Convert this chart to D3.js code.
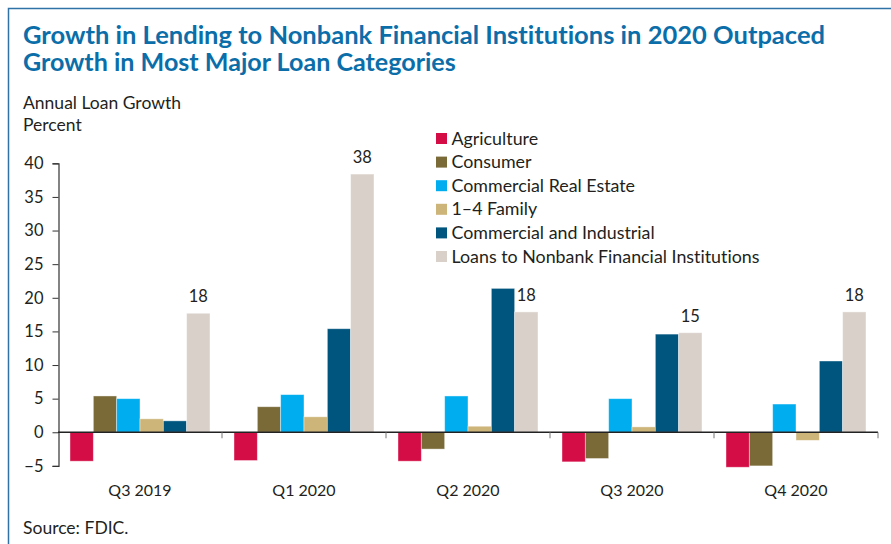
<!DOCTYPE html>
<html>
<head>
<meta charset="utf-8">
<script src="https://cdn.jsdelivr.net/npm/d3@7"></script>
<style>
  html, body { margin: 0; padding: 0; background: #fff; }
  svg { display: block; }
  text { font-family: Lato, "Noto Sans", sans-serif; fill: #231f20; font-variant-ligatures: none; font-feature-settings: "liga" 0, "clig" 0; }
</style>
</head>
<body>
<svg id="chart" width="891" height="544"></svg>
<script>
const quarters = ["Q3 2019", "Q1 2020", "Q2 2020", "Q3 2020", "Q4 2020"];
const seriesNames = ["Agriculture", "Consumer", "Commercial Real Estate", "1\u20134 Family", "Commercial and Industrial", "Loans to Nonbank Financial Institutions"];
const agriculture = [-4.3, -4.2, -4.3, -4.4, -5.2];
const consumer = [5.4, 3.8, -2.5, -3.9, -5.0];
const commercialRealEstate = [5.0, 5.6, 5.4, 5.0, 4.2];
const family14 = [2.0, 2.3, 0.9, 0.8, -1.2];
const commercialIndustrial = [1.7, 15.4, 21.4, 14.6, 10.6];
const nonbank = [17.7, 38.4, 17.9, 14.8, 17.9];
const nonbankLabels = ["18", "38", "18", "15", "18"];
const yTicks = [-5, 0, 5, 10, 15, 20, 25, 30, 35, 40];
const colors = ["#d40d46", "#7a6a38", "#00aeef", "#cdb478", "#00557f", "#d9d0ca"];
const seriesValues = [agriculture, consumer, commercialRealEstate, family14, commercialIndustrial, nonbank];

const svg = d3.select("#chart");

// frame
svg.append("rect").attr("x", 8.5).attr("y", 8.5).attr("width", 1000).attr("height", 1000)
  .attr("fill", "none").attr("stroke", "#2f72a6").attr("stroke-width", 1.5);

function fit(sel, target) {
  const w = sel.node().getComputedTextLength();
  const fs = parseFloat(sel.attr("font-size"));
  sel.attr("font-size", (fs * target / w).toFixed(2));
}

// title
const t1 = svg.append("text").attr("x", 23).attr("y", 43.5).attr("font-size", 24).attr("font-weight", 700)
  .style("fill", "#0b6ea9").text("Growth in Lending to Nonbank Financial Institutions in 2020 Outpaced");
fit(t1, 802);
const t2 = svg.append("text").attr("x", 23).attr("y", 71).attr("font-size", 24).attr("font-weight", 700)
  .style("fill", "#0b6ea9").text("Growth in Most Major Loan Categories");
fit(t2, 433);

const a1 = svg.append("text").attr("x", 23).attr("y", 108.5).attr("font-size", 16).text("Annual Loan Growth");
fit(a1, 158);
const a2 = svg.append("text").attr("x", 23).attr("y", 130.5).attr("font-size", 16).text("Percent");
a2.attr("font-size", a1.attr("font-size"));

// scales
const x = d3.scaleBand().domain(quarters).range([58, 878]).padding(0);
const xi = d3.scaleBand().domain(seriesNames).range([12, x.bandwidth() - 12]).padding(0);
const y = d3.scaleLinear().domain([-5, 40]).range([465.9, 163.3]);

// y axis
const yAxis = svg.append("g").attr("transform", "translate(58.5,0)")
  .call(d3.axisLeft(y).tickValues(yTicks).tickSize(6).tickPadding(9).tickFormat(d3.format("d")));
yAxis.select(".domain").attr("stroke", "#333").attr("stroke-width", 1.2);
yAxis.selectAll(".tick line").attr("stroke", "#333");
yAxis.selectAll(".tick text").attr("font-family", "Lato, 'Noto Sans', sans-serif").attr("font-size", 16.5).style("fill", "#231f20");

// bars
const data = [];
quarters.forEach((q, i) => seriesNames.forEach((s, j) => data.push({ q, s, j, v: seriesValues[j][i] })));
svg.append("g").selectAll("rect").data(data).join("rect")
  .attr("x", d => x(d.q) + xi(d.s))
  .attr("width", xi.bandwidth())
  .attr("y", d => y(Math.max(0, d.v)))
  .attr("height", d => Math.abs(y(d.v) - y(0)))
  .attr("fill", d => colors[d.j])
  .attr("stroke", "rgba(255,255,255,0.5)").attr("stroke-width", 0.8);

// zero line and boundary ticks
svg.append("line").attr("x1", 58).attr("x2", 878).attr("y1", y(0)).attr("y2", y(0))
  .attr("stroke", "#222").attr("stroke-width", 1.4);
svg.append("g").selectAll("line").data(quarters).join("line")
  .attr("x1", d => x(d) + x.bandwidth()).attr("x2", d => x(d) + x.bandwidth())
  .attr("y1", y(0)).attr("y2", y(0) + 6).attr("stroke", "#777").attr("stroke-width", 1);

// x labels
const xAxis = svg.append("g").attr("transform", `translate(0,${y(-5)})`)
  .call(d3.axisBottom(x).tickSize(0).tickPadding(19));
xAxis.select(".domain").remove();
xAxis.selectAll(".tick text").attr("font-family", "Lato, 'Noto Sans', sans-serif").attr("font-size", 16).style("fill", "#231f20");

// value labels
svg.append("g").selectAll("text").data(quarters).join("text")
  .attr("x", d => x(d) + xi(seriesNames[5]) + xi.bandwidth() / 2)
  .attr("y", (d, i) => y(nonbank[i]) - 11)
  .attr("text-anchor", "middle").attr("font-size", 16.5)
  .text((d, i) => nonbankLabels[i]);

// legend
const lg = svg.append("g");
seriesNames.forEach((s, j) => {
  const cy = 138.5 + j * 23.6;
  lg.append("rect").attr("x", 436).attr("y", cy - 5.5).attr("width", 11).attr("height", 11).attr("fill", colors[j]);
  lg.append("text").attr("class", "lt").attr("x", 451.5).attr("y", cy + 6).attr("font-size", 17).text(s);
});
const lastLt = lg.selectAll("text.lt").filter((d, i, n) => i === 5);
fit(lastLt, 308);
lg.selectAll("text.lt").attr("font-size", lastLt.attr("font-size"));

// source
const src = svg.append("text").attr("x", 23).attr("y", 534).attr("font-size", 16).text("Source: FDIC.");
src.attr("font-size", a1.attr("font-size"));
</script>
</body>
</html>
